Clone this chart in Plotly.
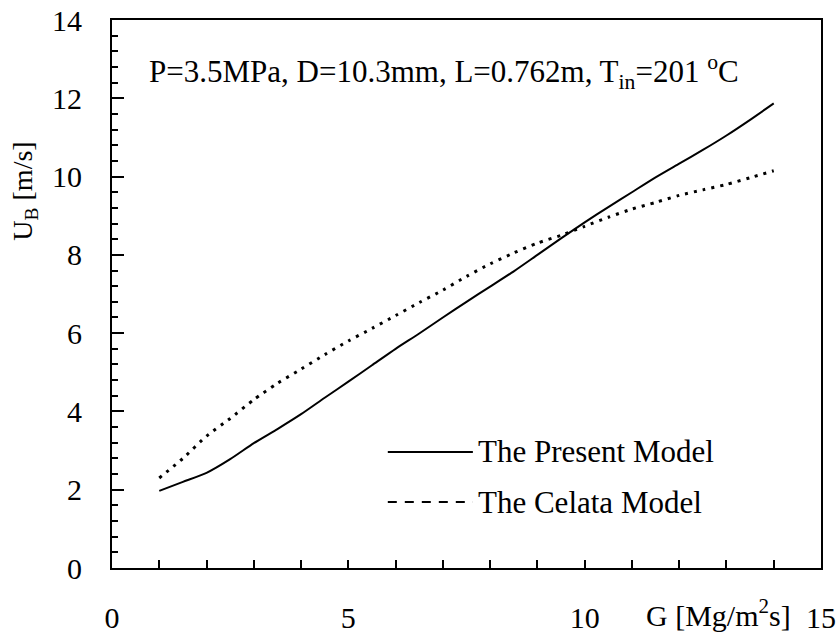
import plotly.graph_objects as go

# Mass flux G [Mg/m^2 s] and bubble velocity U_B [m/s]
g_values = [1, 1.5, 2, 2.5, 3, 3.5, 4, 4.5, 5, 5.5, 6, 6.5, 7, 7.5,
            8, 8.5, 9, 9.5, 10, 10.5, 11, 11.5, 12, 12.5, 13, 13.5, 14]
u_present = [1.97, 2.2, 2.43, 2.78, 3.19, 3.55, 3.93, 4.35, 4.76, 5.18,
             5.6, 5.99, 6.4, 6.8, 7.19, 7.58, 8.0, 8.42, 8.83, 9.22,
             9.6, 9.98, 10.33, 10.68, 11.05, 11.45, 11.87]
u_celata = [2.3, 2.8, 3.37, 3.82, 4.3, 4.72, 5.08, 5.45, 5.8, 6.12,
            6.45, 6.78, 7.1, 7.45, 7.77, 8.05, 8.3, 8.5, 8.73, 8.96,
            9.17, 9.34, 9.52, 9.66, 9.8, 9.97, 10.15]

x_ticks = [0, 5, 10, 15]
y_ticks = [0, 2, 4, 6, 8, 10, 12, 14]
series_names = ["The Present Model", "The Celata Model"]

FONT = "Liberation Serif, DejaVu Serif, serif"

fig = go.Figure()
fig.add_trace(go.Scatter(x=g_values, y=u_present, mode="lines",
                         name=series_names[0],
                         line=dict(color="black", width=2, shape="spline", smoothing=0.6)))
fig.add_trace(go.Scatter(x=g_values, y=u_celata, mode="lines",
                         name=series_names[1],
                         line=dict(color="black", width=3, dash="3px,6px",
                                   shape="spline", smoothing=0.6)))

fig.update_layout(
    width=840, height=640,
    margin=dict(l=112, r=19, t=20, b=72, autoexpand=False),
    paper_bgcolor="white", plot_bgcolor="white",
    showlegend=False,
    font=dict(family=FONT, size=30, color="black"),
)

fig.update_xaxes(
    range=[0, 15], tickvals=x_ticks, ticktext=[str(v) for v in x_ticks],
    ticks="inside", ticklen=8, tickwidth=1.5, tickcolor="black",
    minor=dict(dtick=1, ticks="inside", ticklen=8, tickwidth=1.5, tickcolor="black"),
    showline=True, linecolor="black", linewidth=2, mirror=True,
    showgrid=False, zeroline=False, automargin=False,
    ticklabelstandoff=22,
    tickfont=dict(family=FONT, size=30, color="black"),
)
fig.update_yaxes(
    range=[0, 14], tickvals=y_ticks, ticktext=[str(v) for v in y_ticks],
    ticks="inside", ticklen=12, tickwidth=1.5, tickcolor="black",
    minor=dict(dtick=0.4, ticks="inside", ticklen=6, tickwidth=1.5, tickcolor="black"),
    showline=True, linecolor="black", linewidth=2, mirror=True,
    showgrid=False, zeroline=False, automargin=False,
    ticklabelstandoff=22,
    tickfont=dict(family=FONT, size=30, color="black"),
)

# Axis titles
fig.add_annotation(text="G [Mg/m<sup>2</sup>s]", xref="paper", yref="paper",
                   x=0.856, y=-0.082, xanchor="center", yanchor="middle",
                   showarrow=False, font=dict(family=FONT, size=30))
fig.add_annotation(text="U<sub>B</sub> [m/s]", xref="paper", yref="paper",
                   x=-0.123, y=0.688, xanchor="center", yanchor="middle",
                   textangle=-90, showarrow=False, font=dict(family=FONT, size=28))

# Operating conditions
fig.add_annotation(text="P=3.5MPa, D=10.3mm, L=0.762m, T<sub>in</sub>=201 <sup>o</sup>C",
                   xref="paper", yref="paper", x=0.05, y=0.905,
                   xanchor="left", yanchor="middle", showarrow=False,
                   font=dict(family=FONT, size=31))

# Legend drawn as line samples with labels
legend_rows = [(0.2117, "solid"), (0.1204, "9px,8px")]
for name, (ly, dash) in zip(series_names, legend_rows):
    fig.add_shape(type="line", xref="paper", yref="paper",
                  x0=0.389, x1=0.509, y0=ly, y1=ly,
                  line=dict(color="black", width=2, dash=dash))
    fig.add_annotation(text=name, xref="paper", yref="paper",
                       x=0.513, y=ly, xanchor="left", yanchor="middle",
                       showarrow=False, font=dict(family=FONT, size=31))

fig.write_html("out.html")
